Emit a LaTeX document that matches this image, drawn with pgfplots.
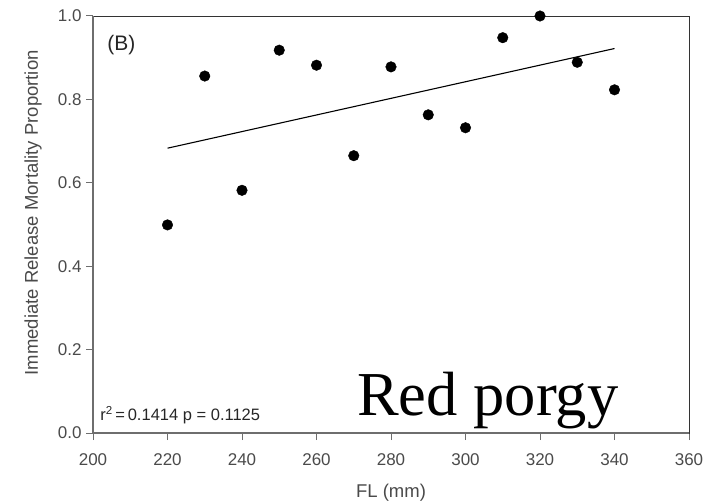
\documentclass[border=0pt]{standalone}
\usepackage{fontspec}
\setmainfont{Liberation Sans}
\newfontfamily\serifbig{Liberation Serif}
\usepackage{pgfplots}
\pgfplotsset{compat=1.18}
\definecolor{axgray}{HTML}{6E6E6E}
\definecolor{txtgray}{HTML}{4A4A4A}

\begin{document}
\begin{tikzpicture}
\useasboundingbox (0,0) rectangle (717bp,504bp);
\begin{axis}[
    at={(93bp,71bp)}, anchor=south west,
    scale only axis,
    width=596bp, height=417bp,
    xmin=200, xmax=360, ymin=0, ymax=1,
    xtick={200,220,...,360},
    ytick={0,0.2,...,1.0},
    xtick pos=bottom, ytick pos=left,
    tick align=outside,
    major tick length=7bp,
    tick style={axgray, line width=1bp},
    axis line style={black!80, line width=0.6bp},
    yticklabel style={/pgf/number format/fixed, /pgf/number format/fixed zerofill,
        /pgf/number format/precision=1, xshift=-1bp},
    xticklabel style={yshift=-10bp},
    /pgf/number format/assume math mode=true,
    tick label style={font=\fontsize{17bp}{19bp}\selectfont, text=txtgray},
    label style={font=\fontsize{18.5bp}{21bp}\selectfont, text=txtgray},
    xlabel={FL (mm)},
    ylabel={Immediate Release Mortality Proportion},
    xlabel style={at={(axis description cs:0.5,-0.143)}, anchor=center},
    ylabel style={at={(axis description cs:-0.1007,0.528)}, anchor=center},
    clip=false,
]
% thicker grey left and bottom axis lines
\draw[axgray, line width=1.8bp] (rel axis cs:0,1) -- (rel axis cs:0,0) -- (rel axis cs:1,0);

\addplot[only marks, mark=*, mark size=5.3bp, black]
    coordinates {(220,0.499)(230,0.856)(240,0.582)(250,0.918)(260,0.882)
                 (270,0.665)(280,0.878)(290,0.763)(300,0.732)(310,0.948)
                 (320,1.000)(330,0.889)(340,0.823)};
\addplot[black, line width=1.1bp] coordinates {(220,0.683)(340,0.922)};

\node[anchor=west, inner sep=0, font=\fontsize{21bp}{23bp}\selectfont, text=black!85]
    at (axis cs:203.8,0.930) {(B)};
\node[anchor=west, inner sep=0, font=\fontsize{16.5bp}{18bp}\selectfont, text=black!85]
    at (axis cs:201.9,0.043) {r\textsuperscript{2}\,=\,0.1414 p = 0.1125};
\node[anchor=base west, inner sep=0, font=\serifbig\fontsize{62.5bp}{64bp}\selectfont]
    at (axis cs:270.9,0.043) {Red porgy};
\end{axis}
\end{tikzpicture}
\end{document}
